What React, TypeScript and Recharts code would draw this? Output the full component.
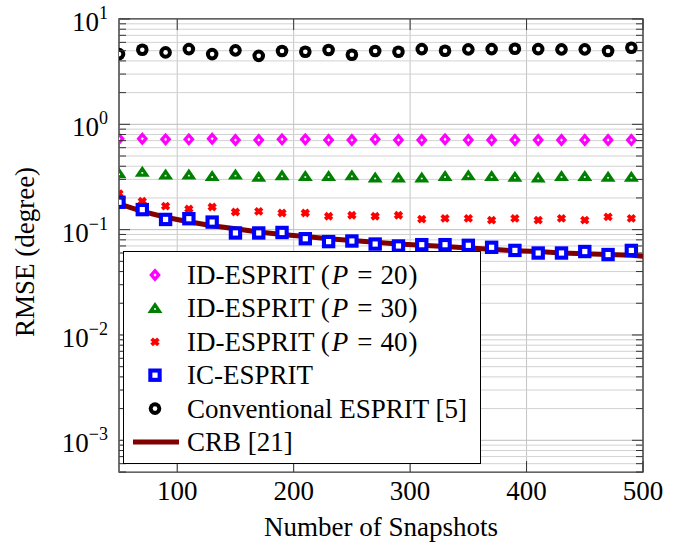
import React from 'react'
import {
  ComposedChart,
  Line,
  XAxis,
  YAxis,
  CartesianGrid,
  ReferenceLine,
  ReferenceArea,
  Label,
} from 'recharts'

const snapshots = [50, 70, 90, 110, 130, 150, 170, 190, 210, 230, 250, 270, 290, 310, 330, 350, 370, 390, 410, 430, 450, 470, 490]
const idEsprit20 = [0.73, 0.73, 0.72, 0.72, 0.73, 0.71, 0.71, 0.72, 0.72, 0.71, 0.71, 0.72, 0.71, 0.71, 0.72, 0.71, 0.71, 0.71, 0.71, 0.71, 0.71, 0.71, 0.71]
const idEsprit30 = [0.34, 0.35, 0.33, 0.33, 0.32, 0.33, 0.315, 0.325, 0.32, 0.32, 0.325, 0.31, 0.31, 0.31, 0.32, 0.325, 0.32, 0.315, 0.31, 0.32, 0.32, 0.315, 0.315]
const idEsprit40 = [0.22, 0.186, 0.167, 0.157, 0.164, 0.147, 0.149, 0.144, 0.144, 0.134, 0.137, 0.134, 0.137, 0.126, 0.128, 0.128, 0.123, 0.128, 0.123, 0.128, 0.123, 0.132, 0.128]
const icEsprit = [0.182, 0.155, 0.125, 0.127, 0.118, 0.093, 0.093, 0.094, 0.082, 0.077, 0.078, 0.073, 0.07, 0.072, 0.072, 0.071, 0.068, 0.0635, 0.06, 0.06, 0.062, 0.058, 0.0635]
const convEsprit = [4.64, 5.1, 4.82, 5.18, 4.64, 5.04, 4.47, 4.96, 4.89, 5.07, 4.57, 4.96, 4.89, 5.18, 5.0, 5.15, 5.18, 5.21, 5.18, 5.15, 5.15, 4.96, 5.33]

const crbSnapshots = [50, 70, 90, 110, 130, 150, 170, 190, 210, 230, 250, 270, 290, 310, 330, 350, 370, 390, 410, 430, 450, 470, 490, 500]
const crb = [0.176, 0.149, 0.131, 0.119, 0.109, 0.102, 0.095, 0.09, 0.086, 0.082, 0.079, 0.076, 0.073, 0.071, 0.069, 0.067, 0.065, 0.063, 0.062, 0.06, 0.059, 0.058, 0.057, 0.056]

const xTicks = [100, 200, 300, 400, 500]
const majorY = [0.001, 0.01, 0.1, 1, 10]
const minorMult = [2, 3, 4, 5, 6, 7, 8, 9]
const belowMinors = [0.0005, 0.0006, 0.0007, 0.0008, 0.0009]

const minorY = [
  ...belowMinors,
  ...majorY.slice(0, -1).flatMap((d) => minorMult.map((m) => +(d * m).toPrecision(3))),
]
const allY = [...minorY, ...majorY].sort((a, b) => a - b)

// one row per snapshot count, CRB also has the 500 end point
const rows: Record<number, any> = {}
snapshots.forEach((n, i) => {
  rows[n] = { n, p20: idEsprit20[i], p30: idEsprit30[i], p40: idEsprit40[i], ic: icEsprit[i], conv: convEsprit[i] }
})
crbSnapshots.forEach((n, i) => {
  rows[n] = { ...(rows[n] || { n }), crb: crb[i] }
})
const data = Object.values(rows).sort((a: any, b: any) => a.n - b.n)

const FONT = "'Liberation Serif', 'Times New Roman', Tinos, Times, serif"
const FS = 27
const AXIS = '#333'

const Diamond = ({ cx, cy }: any) => (
  <g>
    <polygon points={`${cx},${cy - 6.7} ${cx + 5.8},${cy} ${cx},${cy + 6.7} ${cx - 5.8},${cy}`} fill="#ff00ff" />
    <polygon points={`${cx},${cy - 1.8} ${cx + 1.5},${cy} ${cx},${cy + 1.8} ${cx - 1.5},${cy}`} fill="#fff" />
  </g>
)
const Triangle = ({ cx, cy }: any) => (
  <g>
    <polygon points={`${cx},${cy - 6.5} ${cx + 7.5},${cy + 4.5} ${cx - 7.5},${cy + 4.5}`} fill="#008000" />
    <rect x={cx - 0.9} y={cy - 0.2} width={1.8} height={1.6} fill="#fff" />
  </g>
)
const Cross = ({ cx, cy }: any) => (
  <g stroke="#ff0000" strokeWidth={3.8}>
    <line x1={cx - 3.4} y1={cy - 3} x2={cx + 3.4} y2={cy + 3} />
    <line x1={cx - 3.4} y1={cy + 3} x2={cx + 3.4} y2={cy - 3} />
  </g>
)
const Square = ({ cx, cy }: any) => (
  <g>
    <rect x={cx - 6.7} y={cy - 6.7} width={13.4} height={13.4} fill="#0000ff" />
    <rect x={cx - 2.6} y={cy - 2.6} width={5.2} height={5.2} fill="#fff" />
  </g>
)
const Circle = ({ cx, cy }: any) => (
  <g>
    <circle cx={cx} cy={cy} r={6.3} fill="#000" />
    <circle cx={cx} cy={cy} r={2.3} fill="#fff" />
  </g>
)

const dotOf = (Shape: any) => (props: any) => {
  const { cx, cy, index } = props
  if (cx == null || cy == null || isNaN(cy)) return <g key={index} />
  return <Shape key={index} cx={cx} cy={cy} />
}

const isMajor = (v: number) => Math.abs(Math.log10(v) - Math.round(Math.log10(v))) < 1e-6

const LeftTick = (props: any) => {
  const { x, y, payload } = props
  const v = payload.value
  const major = isMajor(v)
  return (
    <g>
      <line x1={x} x2={x + (major ? 11 : 7)} y1={y} y2={y} stroke={AXIS} strokeWidth={1} />
      {major && (
        <text x={x - 11} y={y + 12} textAnchor="end" fontFamily={FONT} fontSize={FS} fill="#000">
          <tspan>10</tspan>
          <tspan dy={-12} fontSize={18}>{String(Math.round(Math.log10(v))).replace('-', '\u2212')}</tspan>
        </text>
      )}
    </g>
  )
}

const RightTick = (props: any) => {
  const { x, y, payload } = props
  const major = isMajor(payload.value)
  return <line x1={x} x2={x - (major ? 11 : 7)} y1={y} y2={y} stroke={AXIS} strokeWidth={1} />
}

const BottomTick = (props: any) => {
  const { x, y, payload } = props
  return (
    <g>
      <line x1={x} x2={x} y1={y} y2={y - 11} stroke={AXIS} strokeWidth={1} />
      <text x={x} y={y + 28} textAnchor="middle" fontFamily={FONT} fontSize={FS} fill="#000">
        {payload.value}
      </text>
    </g>
  )
}

const TopTick = (props: any) => {
  const { x, y } = props
  return <line x1={x} x2={x} y1={y} y2={y + 11} stroke={AXIS} strokeWidth={1} />
}

const legendItems = [
  { name: 'ID-ESPRIT', p: '20', Shape: Diamond },
  { name: 'ID-ESPRIT', p: '30', Shape: Triangle },
  { name: 'ID-ESPRIT', p: '40', Shape: Cross },
  { name: 'IC-ESPRIT', Shape: Square },
  { name: 'Conventional ESPRIT [5]', Shape: Circle },
  { name: 'CRB [21]', line: '#800000' },
]

function ChartLegend() {
  return (
    <svg width={358} height={213} style={{ position: 'absolute', left: 123, top: 251 }}>
      <rect x={0.5} y={0.5} width={357} height={212} fill="#fff" stroke="#000" strokeWidth={1} />
      {legendItems.map((it: any, i) => {
        const cy = 24 + i * 33.4
        return (
          <g key={i}>
            {it.line ? (
              <line x1={10} x2={56} y1={cy} y2={cy} stroke={it.line} strokeWidth={5} />
            ) : (
              <it.Shape cx={32} cy={cy} />
            )}
            <text x={64} y={cy + 9} fontFamily={FONT} fontSize={FS} fill="#000">
              {it.p ? (
                <>
                  <tspan>{it.name} (</tspan>
                  <tspan dx={2} fontStyle="italic">P</tspan>
                  <tspan dx={9}>=</tspan>
                  <tspan dx={8}>{it.p}</tspan>
                  <tspan dx={1}>)</tspan>
                </>
              ) : (
                it.name
              )}
            </text>
          </g>
        )
      })}
    </svg>
  )
}

export default function App() {
  return (
    <div style={{ position: 'absolute', left: 0, top: 0, width: 681, height: 544, background: '#fff' }}>
      <ComposedChart width={681} height={544} data={data} margin={{ top: 0, right: 0, bottom: 0, left: 0 }}>
        <CartesianGrid horizontal={false} stroke="#c4c4c4" strokeWidth={1} />
        {allY.map((v) => (
          <ReferenceLine key={v} y={v} stroke={isMajor(v) ? '#bdbdbd' : '#d2d2d2'} strokeWidth={1} ifOverflow="hidden" />
        ))}
        <XAxis
          dataKey="n"
          type="number"
          domain={[50, 500]}
          ticks={xTicks}
          allowDataOverflow
          height={72}
          axisLine={false}
          tickLine={false}
          tickSize={0}
          tickMargin={0}
          tick={<BottomTick />}
          interval={0}
        >
          <Label
            content={() => (
              <text x={381} y={536} textAnchor="middle" fontFamily={FONT} fontSize={FS} fill="#000">
                Number of Snapshots
              </text>
            )}
          />
        </XAxis>
        <XAxis
          xAxisId="top"
          orientation="top"
          dataKey="n"
          type="number"
          domain={[50, 500]}
          ticks={xTicks}
          allowDataOverflow
          height={19}
          axisLine={false}
          tickLine={false}
          tickSize={0}
          tickMargin={0}
          tick={<TopTick />}
          interval={0}
        />
        <YAxis
          scale="log"
          type="number"
          domain={[0.0005, 10]}
          ticks={allY}
          allowDataOverflow
          width={119}
          axisLine={false}
          tickLine={false}
          tickSize={0}
          tickMargin={0}
          tick={<LeftTick />}
          interval={0}
        >
          <Label
            content={() => (
              <text
                x={0}
                y={0}
                transform="translate(34 252) rotate(-90)"
                textAnchor="middle"
                fontFamily={FONT}
                fontSize={FS}
                fill="#000"
              >
                RMSE (degree)
              </text>
            )}
          />
        </YAxis>
        <YAxis
          yAxisId="right"
          orientation="right"
          scale="log"
          type="number"
          domain={[0.0005, 10]}
          ticks={allY}
          allowDataOverflow
          width={38}
          axisLine={false}
          tickLine={false}
          tickSize={0}
          tickMargin={0}
          tick={<RightTick />}
          interval={0}
        />
        <Line dataKey="crb" type="linear" stroke="#800000" strokeWidth={5} dot={false} activeDot={false} connectNulls isAnimationActive={false} />
        <Line dataKey="p20" stroke="none" dot={dotOf(Diamond)} activeDot={false} isAnimationActive={false} />
        <Line dataKey="p30" stroke="none" dot={dotOf(Triangle)} activeDot={false} isAnimationActive={false} />
        <Line dataKey="p40" stroke="none" dot={dotOf(Cross)} activeDot={false} isAnimationActive={false} />
        <Line dataKey="ic" stroke="none" dot={dotOf(Square)} activeDot={false} isAnimationActive={false} />
        <Line dataKey="conv" stroke="none" dot={dotOf(Circle)} activeDot={false} isAnimationActive={false} />
        <ReferenceArea x1={50} x2={500} y1={0.0005} y2={10} fill="none" stroke={AXIS} strokeWidth={1.3} ifOverflow="visible" />
      </ComposedChart>
      <ChartLegend />
    </div>
  )
}
